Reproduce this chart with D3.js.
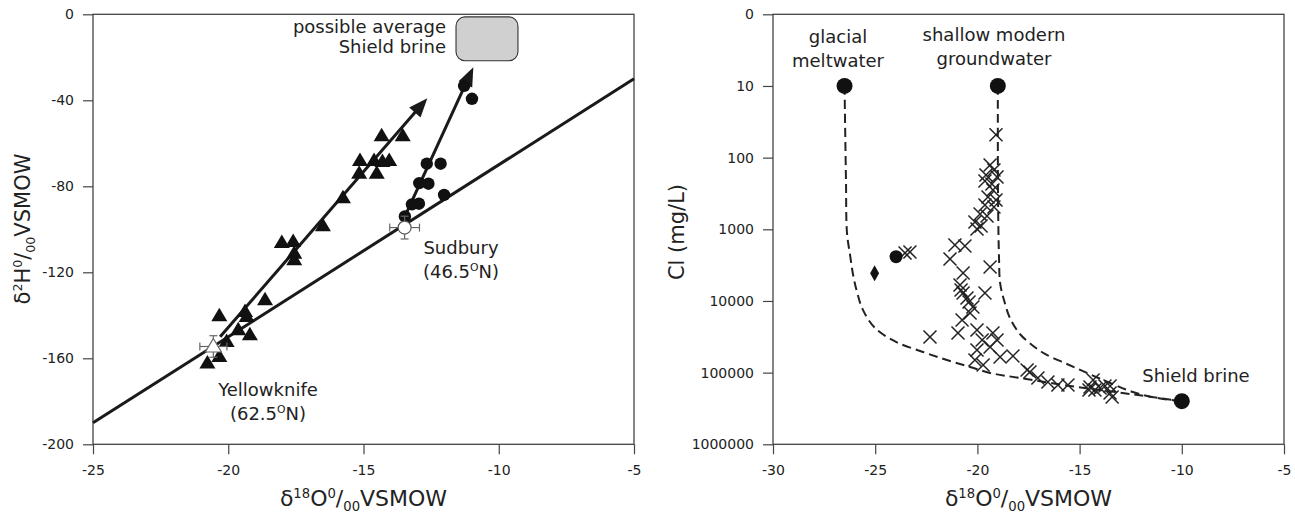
<!DOCTYPE html>
<html>
<head>
<meta charset="utf-8">
<script src="https://cdn.jsdelivr.net/npm/d3@7"></script>
<style>
  body { margin: 0; background: #fff; }
  text { font-family: "DejaVu Sans", sans-serif; fill: #222; }
</style>
</head>
<body>
<svg id="chart" width="1295" height="513"></svg>
<script>
// ---------- left panel: d18O vs d2H ----------
const leftXTicks = [-25, -20, -15, -10, -5];
const leftYTicks = [0, -40, -80, -120, -160, -200];
const gmwl = [[-25, -190], [-5, -30]];
const ykArrow = [[-20.3, -150], [-12.64, -39]];
const sudArrow = [[-13.47, -94], [-10.94, -24.6]];
const ykTriangles = [
  [-14.33, -56.5], [-13.55, -56.5], [-15.13, -68.0], [-14.61, -68.0], [-14.3, -68.5],
  [-14.05, -68.0], [-15.16, -73.9], [-14.51, -73.9], [-15.76, -85.3], [-16.5, -98.4],
  [-18.02, -106.1], [-17.6, -105.7], [-17.56, -111.1], [-17.56, -114.2], [-18.64, -132.8],
  [-20.33, -140.2], [-19.38, -138.2], [-19.32, -140.6], [-19.63, -146.7], [-19.2, -149.1],
  [-20.06, -152.2], [-20.33, -159.2], [-20.77, -162.2]
];
const sudCircles = [
  [-11.28, -33.3], [-10.99, -39.3], [-12.66, -69.5], [-12.15, -69.5], [-12.94, -78.5],
  [-12.6, -78.8], [-12.02, -84.0], [-13.21, -88.4], [-12.95, -88.1], [-13.47, -94.0]
];
// precipitation means with error bars: [x, y, errX, errY]
const ykMean = [-20.55, -154.5, 0.5, 5];
const sudMean = [-13.48, -99.2, 0.55, 5.3];
const brineBox = [-11.58, -9.29, -21.6, -1.2];

// ---------- right panel: d18O vs Cl ----------
const rightXTicks = [-30, -25, -20, -15, -10, -5];
const rightYTicks = [1, 10, 100, 1000, 10000, 100000, 1000000];
const endMembers = [[-26.5, 10], [-19, 10], [-10, 250000]];
const glacialCurve = [
  [-26.5, 10], [-26.43, 205], [-26.38, 1125], [-26.23, 2280], [-26.08, 4340], [-25.89, 7480],
  [-25.6, 13330], [-25.01, 23800], [-23.98, 37300], [-22.66, 51500], [-21.49, 66600],
  [-20.36, 83400], [-19.38, 101000], [-17.92, 118800], [-15.13, 158600], [-12.53, 198600],
  [-10, 250000]
];
const modernCurve = [
  [-19, 10], [-18.99, 390], [-18.94, 2680], [-18.89, 5610], [-18.7, 9680], [-18.41, 17250],
  [-17.92, 28900], [-17.33, 41100], [-16.69, 54900], [-15.62, 75700], [-14.64, 101000],
  [-13.51, 139400], [-12.39, 186200], [-11.21, 225800], [-10, 250000]
];
const crosses = [
  [-19.09, 48], [-19.38, 127], [-19.19, 149], [-19.58, 175], [-19.04, 186], [-19.63, 212],
  [-19.29, 233], [-19.24, 283], [-19.48, 354], [-19.09, 390], [-19.63, 458], [-19.19, 488],
  [-19.87, 612], [-19.53, 653], [-20.12, 791], [-19.82, 900], [-20.02, 991], [-21.1, 1660],
  [-20.61, 1710], [-21.34, 2600], [-19.38, 3360], [-20.7, 4070], [-20.85, 5990], [-20.8, 7030],
  [-20.7, 7750], [-19.63, 7750], [-20.51, 9100], [-20.41, 10350], [-20.22, 12150], [-20.36, 14750],
  [-20.75, 18470], [-22.32, 31880], [-20.95, 28000], [-20.02, 25400], [-19.77, 35100],
  [-19.24, 28000], [-19.04, 35100], [-20.02, 48300], [-19.38, 43900], [-18.89, 60500],
  [-18.26, 58600], [-20.12, 66500], [-19.72, 78100], [-17.57, 91800], [-17.43, 98000],
  [-17.04, 118800], [-16.55, 135000], [-16.06, 149000], [-15.57, 149000], [-14.49, 158600],
  [-14.34, 126800], [-14.25, 174600], [-14.0, 163700], [-13.51, 153600], [-13.51, 192300],
  [-13.76, 153600], [-14.54, 174600], [-13.41, 218800], [-23.54, 2140], [-23.3, 2070]
];
const smallCircle = [[-23.98, 2410]];
const diamonds = [[-25.03, 4110]];

const svg = d3.select("#chart");
const frameColor = "#444";

// scales
const xL = d3.scaleLinear().domain([-25, -5]).range([93, 634]);
const yL = d3.scaleLinear().domain([-200, 0]).range([444.3, 14.3]);
const xR = d3.scaleLinear().domain([-30, -5]).range([773, 1284]);
const yR = d3.scaleLog().domain([1, 1000000]).range([14.3, 444.3]);

function drawAxes(x, y, xTicks, yTicks, yFormat) {
  const [x0, x1] = x.range();
  const [ya, yb] = y.range();
  const yTop = Math.min(ya, yb), yBot = Math.max(ya, yb);
  const gx = svg.append("g").attr("transform", `translate(0,${yBot})`)
    .call(d3.axisBottom(x).tickValues(xTicks).tickFormat(d => String(d))
      .tickSize(10).tickSizeOuter(0).tickPadding(11));
  const gy = svg.append("g").attr("transform", `translate(${x0},0)`)
    .call(d3.axisLeft(y).tickValues(yTicks).tickFormat(yFormat)
      .tickSize(10).tickSizeOuter(0).tickPadding(9));
  [gx, gy].forEach(g => {
    g.select(".domain").remove();
    g.selectAll("line").attr("stroke", frameColor).attr("stroke-width", 1.2);
    g.selectAll("text").style("font-size", "14px").attr("fill", "#222");
  });
  svg.append("rect")
    .attr("x", x0).attr("y", yTop)
    .attr("width", x1 - x0).attr("height", yBot - yTop)
    .attr("fill", "none").attr("stroke", frameColor).attr("stroke-width", 1.3);
}

drawAxes(xL, yL, leftXTicks, leftYTicks, d => String(d));
drawAxes(xR, yR, rightXTicks, rightYTicks, d => (d === 1 ? "0" : String(d)));

// axis titles
function deltaTitle(sel, iso, elem, size) {
  sel.append("tspan").text("δ");
  sel.append("tspan").attr("dy", -8).style("font-size", (size * 0.6) + "px").text(iso);
  sel.append("tspan").attr("dy", 8).text(elem);
  sel.append("tspan").attr("dy", -8).style("font-size", (size * 0.6) + "px").text("0");
  sel.append("tspan").attr("dy", 8).text("/");
  sel.append("tspan").attr("dy", 5).style("font-size", (size * 0.6) + "px").text("00");
  sel.append("tspan").attr("dy", -5).text("VSMOW");
}
const titleSize = 22;
deltaTitle(svg.append("text").attr("x", (93 + 634) / 2).attr("y", 506)
  .attr("text-anchor", "middle").style("font-size", titleSize + "px"), "18", "O", titleSize);
deltaTitle(svg.append("text").attr("x", (773 + 1284) / 2).attr("y", 506)
  .attr("text-anchor", "middle").style("font-size", titleSize + "px"), "18", "O", titleSize);
deltaTitle(svg.append("text").attr("transform", "translate(30,229) rotate(-90)")
  .attr("text-anchor", "middle").style("font-size", (titleSize - 1) + "px"), "2", "H", titleSize - 1);
svg.append("text").attr("transform", "translate(684,232) rotate(-90)")
  .attr("text-anchor", "middle").style("font-size", "21px").text("Cl (mg/L)");

// ---------- left panel marks ----------
const line = d3.line();
svg.append("path")
  .attr("d", line(gmwl.map(d => [xL(d[0]), yL(d[1])])))
  .attr("stroke", "#1a1a1a").attr("stroke-width", 3).attr("fill", "none");

function arrow(pts) {
  const p0 = [xL(pts[0][0]), yL(pts[0][1])];
  const p1 = [xL(pts[1][0]), yL(pts[1][1])];
  const ang = Math.atan2(p1[1] - p0[1], p1[0] - p0[0]);
  const headL = 19, headW = 7.5;
  const back = [p1[0] - headL * Math.cos(ang), p1[1] - headL * Math.sin(ang)];
  svg.append("path").attr("d", line([p0, [back[0] + 4 * Math.cos(ang), back[1] + 4 * Math.sin(ang)]]))
    .attr("stroke", "#1a1a1a").attr("stroke-width", 3).attr("fill", "none");
  const nx = -Math.sin(ang), ny = Math.cos(ang);
  svg.append("path")
    .attr("d", line([p1, [back[0] + nx * headW, back[1] + ny * headW],
      [back[0] - nx * headW, back[1] - ny * headW]]) + "Z")
    .attr("fill", "#1a1a1a");
}
arrow(ykArrow);
arrow(sudArrow);

const triPath = "M0,-8L8,5.5L-8,5.5Z";
svg.append("g").selectAll("path").data(ykTriangles).enter().append("path")
  .attr("transform", d => `translate(${xL(d[0])},${yL(d[1])})`)
  .attr("d", triPath).attr("fill", "#111");

svg.append("g").selectAll("circle").data(sudCircles).enter().append("circle")
  .attr("cx", d => xL(d[0])).attr("cy", d => yL(d[1])).attr("r", 6.2).attr("fill", "#111");

function errorBars(m) {
  const g = svg.append("g").attr("stroke", "#666").attr("stroke-width", 1.2);
  const cx = xL(m[0]), cy = yL(m[1]);
  const xa = xL(m[0] - m[2]), xb = xL(m[0] + m[2]);
  const ya = yL(m[1] + m[3]), yb = yL(m[1] - m[3]);
  g.append("line").attr("x1", xa).attr("x2", xb).attr("y1", cy).attr("y2", cy);
  g.append("line").attr("x1", xa).attr("x2", xa).attr("y1", cy - 4).attr("y2", cy + 4);
  g.append("line").attr("x1", xb).attr("x2", xb).attr("y1", cy - 4).attr("y2", cy + 4);
  g.append("line").attr("x1", cx).attr("x2", cx).attr("y1", ya).attr("y2", yb);
  g.append("line").attr("x1", cx - 4).attr("x2", cx + 4).attr("y1", ya).attr("y2", ya);
  g.append("line").attr("x1", cx - 4).attr("x2", cx + 4).attr("y1", yb).attr("y2", yb);
}
errorBars(ykMean);
errorBars(sudMean);
svg.append("path")
  .attr("transform", `translate(${xL(ykMean[0])},${yL(ykMean[1])})`)
  .attr("d", triPath).attr("fill", "#fff").attr("stroke", "#666").attr("stroke-width", 1.2);
svg.append("circle")
  .attr("cx", xL(sudMean[0])).attr("cy", yL(sudMean[1])).attr("r", 6.5)
  .attr("fill", "#fff").attr("stroke", "#555").attr("stroke-width", 1.2);

svg.append("rect")
  .attr("x", xL(brineBox[0])).attr("y", yL(brineBox[3]))
  .attr("width", xL(brineBox[1]) - xL(brineBox[0]))
  .attr("height", yL(brineBox[2]) - yL(brineBox[3]))
  .attr("rx", 9).attr("fill", "#d0d0d0").attr("stroke", "#333").attr("stroke-width", 1.1);

function label(x, y, lines, anchor, size) {
  lines.forEach((ln, i) => {
    const t = svg.append("text").attr("x", x).attr("y", y + i * 24)
      .attr("text-anchor", anchor).style("font-size", size + "px");
    if (Array.isArray(ln)) {
      t.append("tspan").text(ln[0]);
      t.append("tspan").attr("dy", -7).style("font-size", (size * 0.6) + "px").text("O");
      t.append("tspan").attr("dy", 7).text(ln[1]);
    } else {
      t.text(ln);
    }
  });
}
label(446, 33, ["possible average"], "end", 18);
label(446, 53, ["Shield brine"], "end", 18);
label(461, 254, ["Sudbury", ["(46.5", "N)"]], "middle", 18);
label(268, 396, ["Yellowknife", ["(62.5", "N)"]], "middle", 18);

// ---------- right panel marks ----------
const curve = d3.line().x(d => xR(d[0])).y(d => yR(d[1])).curve(d3.curveCatmullRom);
[glacialCurve, modernCurve].forEach(c => {
  svg.append("path").attr("d", curve(c))
    .attr("fill", "none").attr("stroke", "#222").attr("stroke-width", 2)
    .attr("stroke-dasharray", "9,5");
});

svg.append("g").selectAll("path").data(crosses).enter().append("path")
  .attr("transform", d => `translate(${xR(d[0])},${yR(d[1])})`)
  .attr("d", "M-6.5,-6.5L6.5,6.5M-6.5,6.5L6.5,-6.5")
  .attr("stroke", "#222").attr("stroke-width", 1.5).attr("fill", "none");

svg.append("g").selectAll("circle").data(endMembers).enter().append("circle")
  .attr("cx", d => xR(d[0])).attr("cy", d => yR(d[1])).attr("r", 8).attr("fill", "#111");
svg.append("g").selectAll("circle").data(smallCircle).enter().append("circle")
  .attr("cx", d => xR(d[0])).attr("cy", d => yR(d[1])).attr("r", 6.5).attr("fill", "#111");
svg.append("g").selectAll("path").data(diamonds).enter().append("path")
  .attr("transform", d => `translate(${xR(d[0])},${yR(d[1])})`)
  .attr("d", "M0,-8L4.5,0L0,8L-4.5,0Z").attr("fill", "#111");

label(838, 43, ["glacial", "meltwater"], "middle", 18);
label(994, 41, ["shallow modern", "groundwater"], "middle", 18);
label(1196, 382, ["Shield brine"], "middle", 18);
</script>
</body>
</html>
